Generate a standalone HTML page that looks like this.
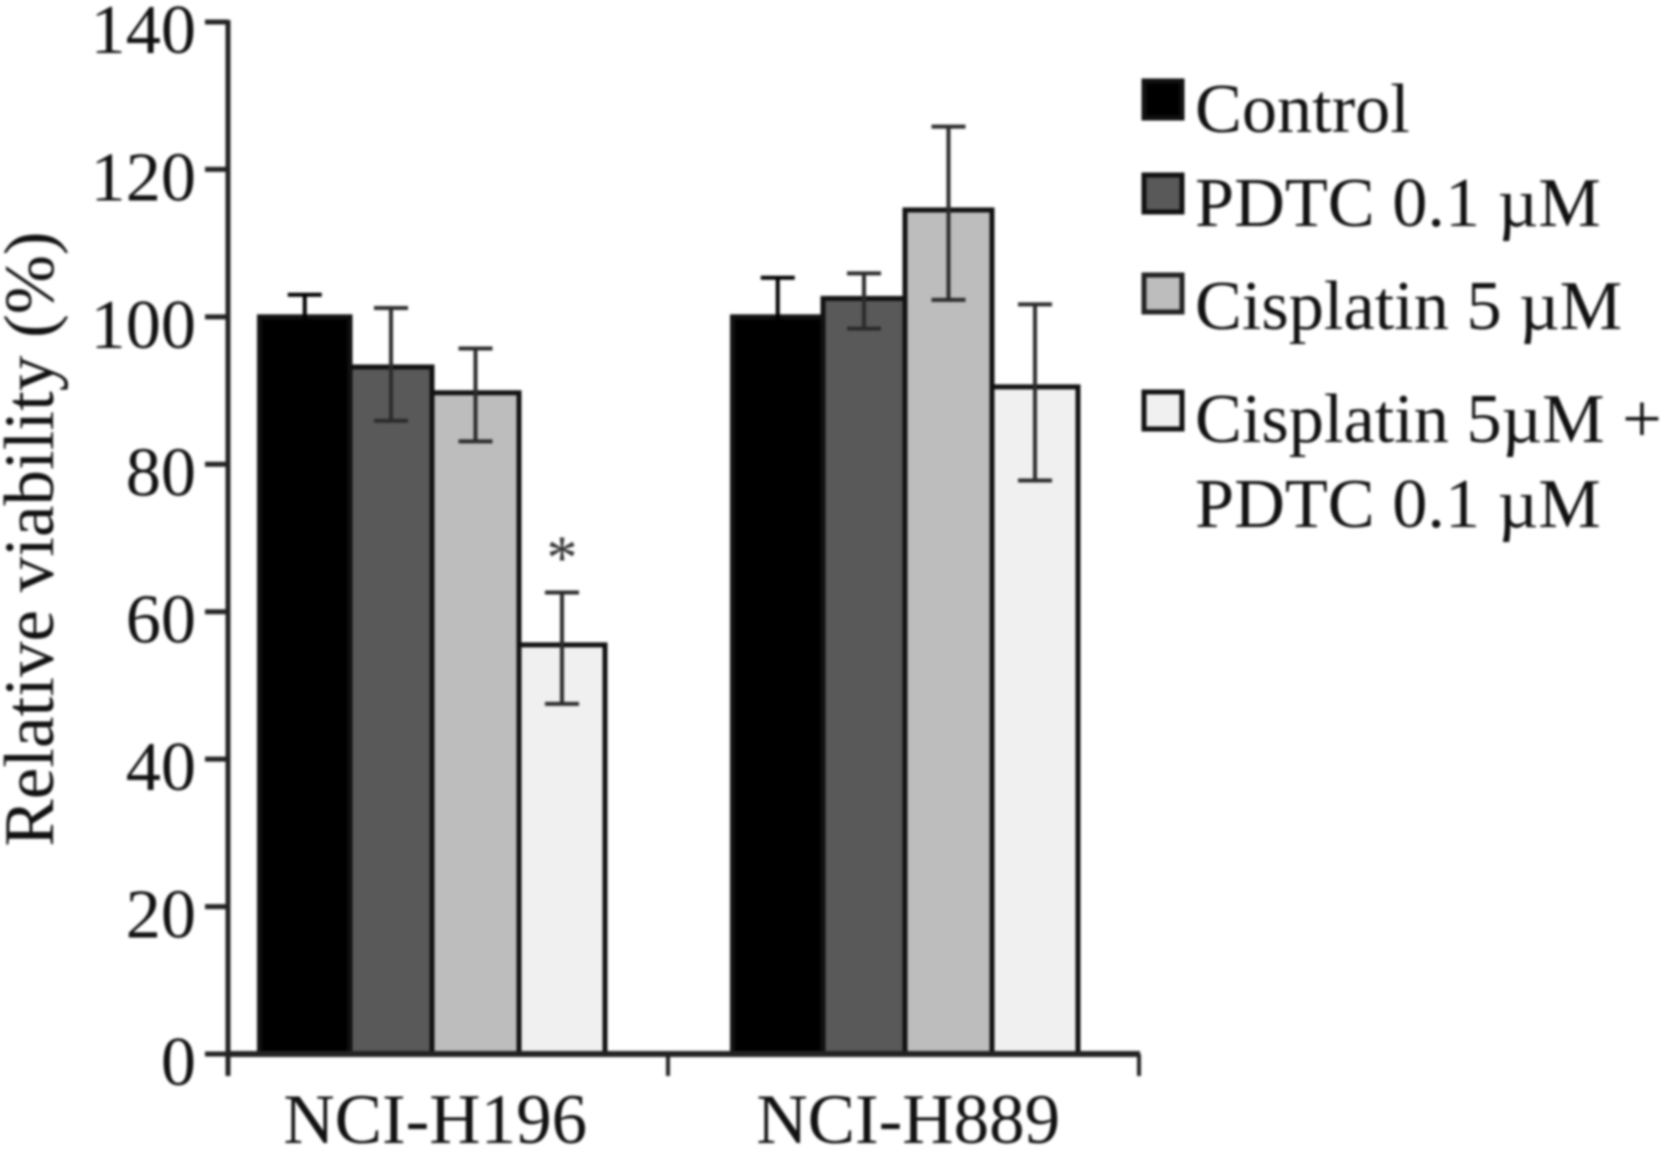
<!DOCTYPE html>
<html lang="en">
<head>
<meta charset="utf-8">
<title>Relative viability chart</title>
<style>
  html, body { margin: 0; padding: 0; background: #fff; }
  body { width: 1668px; height: 1151px; overflow: hidden; }
  svg { display: block; filter: blur(1.2px); }
  text { font-family: "Liberation Serif", serif; font-size: 70.3px; fill: #111; }
</style>
</head>
<body>
<svg id="chart" xmlns="http://www.w3.org/2000/svg" width="1668" height="1151" viewBox="0 0 1668 1151">
  <text transform="translate(53,539) rotate(-90)" text-anchor="middle" style="font-size:71px">Relative viability (%)</text>
  <g id="plot"></g>
  <g>
    <rect x="1144" y="81" width="38" height="37" fill="#000" stroke="#111" stroke-width="5"/>
    <text x="1195" y="132">Control</text>
    <rect x="1144" y="175" width="38" height="37" fill="#595959" stroke="#111" stroke-width="5"/>
    <text x="1195" y="226">PDTC 0.1 µM</text>
    <rect x="1144" y="275" width="38" height="37" fill="#bdbdbd" stroke="#222" stroke-width="5"/>
    <text x="1195" y="329">Cisplatin 5 µM</text>
    <rect x="1144" y="392" width="38" height="37" fill="#f0f0f0" stroke="#111" stroke-width="5"/>
    <text x="1195" y="442">Cisplatin 5µM +</text>
    <text x="1195" y="527">PDTC 0.1 µM</text>
  </g>
</svg>
<script>
const categories = ["NCI-H196", "NCI-H889"];
const seriesNames = ["Control", "PDTC 0.1 µM", "Cisplatin 5 µM", "Cisplatin 5µM + PDTC 0.1 µM"];
const h196Values = [100, 93.2, 89.7, 55.5];
const h889Values = [100, 102.5, 114.5, 90.5];
const h196ErrorTop = [103, 101.2, 95.7, 62.6];
const h196ErrorBottom = [97, 85.9, 83.1, 47.5];
const h889ErrorTop = [105.3, 105.9, 125.8, 101.7];
const h889ErrorBottom = [94.7, 98.4, 102.3, 77.8];
const yTicks = [0, 20, 40, 60, 80, 100, 120, 140];
const significance = [{ category: 0, series: 3, label: "*" }];

const seriesValues = [h196Values, h889Values];
const errorTops = [h196ErrorTop, h889ErrorTop];
const errorBottoms = [h196ErrorBottom, h889ErrorBottom];

const NS = "http://www.w3.org/2000/svg";
const plot = document.getElementById("plot");
const fills = ["#000000", "#595959", "#bdbdbd", "#f0f0f0"];
const errorColors = ["#000000", "#2b2b2b", "#2b2b2b", "#2b2b2b"];
const slotWeights = [90.5, 82, 87, 86];

const axisX = 228;
const axisTop = 22;
const axisBase = 1054;
const yMax = 140;
const firstGroupLeft = 259.5;
const groupStep = 473;
const capHalf = 17;
const axisColor = "#222";

function yScale(v) {
  return axisBase - (v / yMax) * (axisBase - axisTop);
}
function slotLeft(categoryIndex, seriesIndex) {
  let x = firstGroupLeft + categoryIndex * groupStep;
  for (let i = 0; i < seriesIndex; i++) x += slotWeights[i];
  return x;
}
function make(tag, attrs, parent) {
  const el = document.createElementNS(NS, tag);
  for (const k in attrs) el.setAttribute(k, attrs[k]);
  parent.appendChild(el);
  return el;
}
function line(x1, y1, x2, y2, color, width, parent) {
  return make("line", { x1, y1, x2, y2, stroke: color, "stroke-width": width }, parent);
}

// bars
categories.forEach((cat, c) => {
  seriesNames.forEach((name, s) => {
    const v = seriesValues[c][s];
    const bar = make("rect", {
      x: slotLeft(c, s),
      y: yScale(v),
      width: slotWeights[s],
      height: axisBase - yScale(v),
      fill: fills[s],
      stroke: "#111",
      "stroke-width": 5
    }, plot);
    
    
    bar.setAttribute('aria-label', cat + ' ' + name);
  });
});

// error bars
categories.forEach((cat, c) => {
  seriesNames.forEach((name, s) => {
    const cx = slotLeft(c, s) + slotWeights[s] / 2;
    const top = yScale(errorTops[c][s]);
    const bottom = yScale(errorBottoms[c][s]);
    const color = errorColors[s];
    const group = make("g", {}, plot);
    
    
    line(cx, top, cx, bottom, color, 4, group);
    line(cx - capHalf, top, cx + capHalf, top, color, 4, group);
    line(cx - capHalf, bottom, cx + capHalf, bottom, color, 4, group);
  });
});

// significance markers
significance.forEach((mark) => {
  const cx = slotLeft(mark.category, mark.series) + slotWeights[mark.series] / 2;
  const t = make("text", {
    x: cx,
    y: yScale(errorTops[mark.category][mark.series]) - 14,
    "text-anchor": "middle",
    style: "font-size:62px;fill:#333"
  }, plot);
  
  
  t.textContent = mark.label;
});

// axes
const yAxisLine = line(axisX, axisTop - 2, axisX, axisBase + 22, axisColor, 5, plot);



const xAxisLine = line(axisX, axisBase, 1140, axisBase, axisColor, 6, plot);



yTicks.forEach((tick) => {
  const y = yScale(tick);
  const mark = line(205, y, axisX, y, axisColor, 5, plot);
  
  
  const label = make("text", { x: 196, y: y + 31, "text-anchor": "end" }, plot);
  
  
  label.textContent = String(tick);
});

const xDividers = [668, 1139];
xDividers.forEach((x) => {
  const mark = line(x, axisBase, x, axisBase + 22, axisColor, 4, plot);
  
  
});

categories.forEach((cat, c) => {
  const left = slotLeft(c, 0);
  const right = slotLeft(c, seriesNames.length);
  const label = make("text", { x: (left + right) / 2 + 3, y: 1143, "text-anchor": "middle", style: "font-size:71px" }, plot);
  
  
  label.textContent = cat;
});
</script>
</body>
</html>
